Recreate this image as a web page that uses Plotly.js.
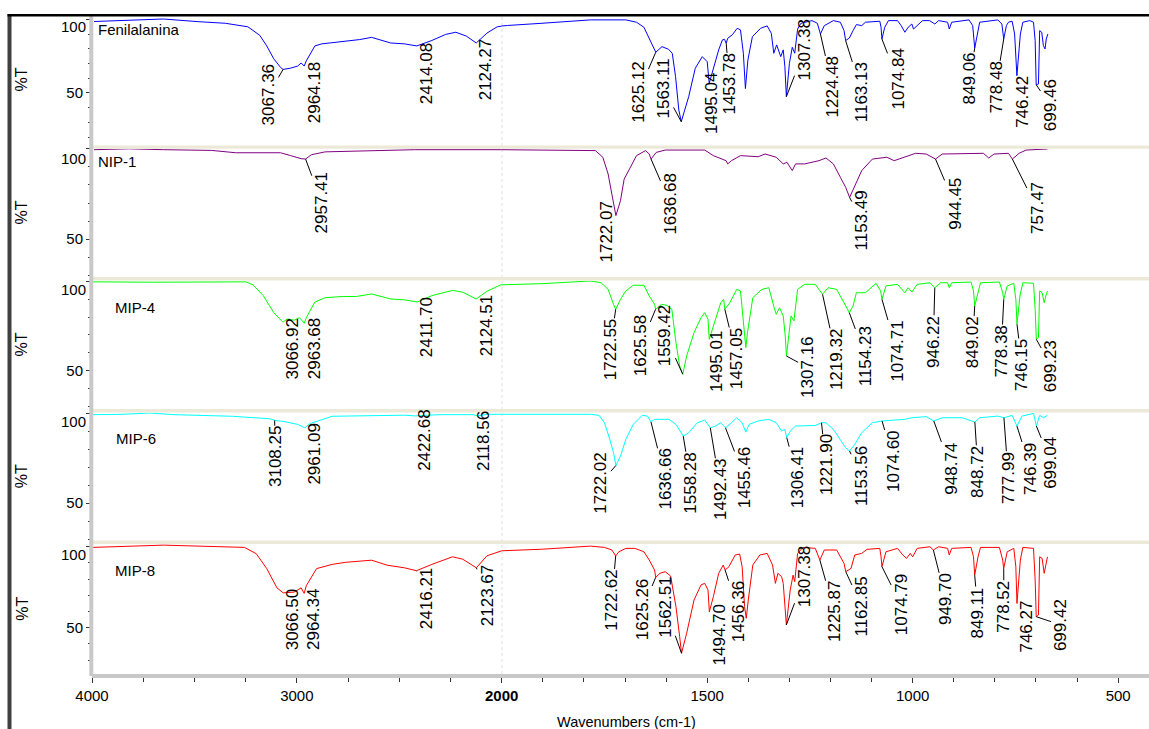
<!DOCTYPE html>
<html>
<head>
<meta charset="utf-8">
<script src="https://cdn.plot.ly/plotly-3.0.1.min.js"></script>
<style>html,body{margin:0;padding:0;background:#fff;}#chart{width:1149px;height:729px;}</style>
</head>
<body>
<div id="chart"></div>
<script>
// ---------------- DATA ----------------
const sampleNames = ['Fenilalanina', 'NIP-1', 'MIP-4', 'MIP-6', 'MIP-8'];

const fenWn = [3990,3819,3651,3483,3349,3239,3181,3147,3113,3080,3067.36,3030,2996,2979,2964.18,2954,2912,2878,2811,2744,2694,2635,2593,2542,2475,2414.08,2341,2274,2224,2173,2124.27,2072,2022,1986,1902,1818,1784,1698,1672,1654,1642,1625.12,1610,1594,1585,1577,1569,1563.11,1545,1529,1512,1500,1495.04,1484,1472,1463,1458,1453.78,1450,1439,1427,1419,1412,1407,1401,1390,1370,1354,1344,1338,1331,1321,1315,1311,1307.38,1300,1293,1287,1280,1272,1245,1232,1224.48,1215,1193,1176,1167,1163.13,1154,1145,1137,1124,1115,1080,1077,1074.84,1068,1059,1037,1028,1019,1011,1002,998,989,976,959,946,937,915,911,905,863,854,849.06,843,837,793,783,778.48,772,767,758,752,749,746.42,741,738,732,715,706,702,699.46,694,691,686,682,678,675,671];
const fenT = [98.6,99.7,100.3,98.5,97.4,95.0,89.2,82.0,73.3,67.5,66.0,66.9,68.3,70.4,68.3,71.8,82.0,83.4,84.3,85.7,86.3,87.8,86.3,84.0,83.4,82.0,85.7,89.8,91.3,88.7,84.0,90.7,95.0,95.9,97.4,99.1,99.7,99.7,98.1,94.7,88.0,77.7,81.5,79.7,77.0,61.1,38.4,30.5,47.5,66.8,74.7,71.3,56.6,67.9,79.3,86.1,86.5,83.8,87.2,89.5,94.0,92.9,77.0,53.0,72.4,88.3,94.0,95.6,90.6,77.0,82.7,74.7,79.3,68.0,47.5,70.0,81.1,77.0,93.5,97.4,99.2,97.4,90.1,95.8,99.2,98.1,92.4,85.6,87.4,92.4,96.5,95.8,98.1,98.8,94.7,86.7,94.7,99.2,99.2,95.8,91.3,94.7,96.9,93.5,95.8,99.2,99.2,96.9,99.2,98.1,93.5,98.1,99.7,95.8,80.5,90.1,98.1,99.7,96.9,86.7,95.8,98.1,98.8,90.1,75.0,61.8,80.0,90.1,98.1,99.2,98.1,85.6,55.6,56.1,92.4,91.3,82.2,79.9,86.7,90.1];
const fenPeaks = [3067.36,2964.18,2414.08,2124.27,1625.12,1563.11,1495.04,1453.78,1307.38,1224.48,1163.13,1074.84,849.06,778.48,746.42,699.46];

const nipWn = [3990,3819,3651,3416,3298,3080,3030,2979,2957.41,2929,2862,2710,2425,2000,1784,1772,1754,1741,1732,1726,1722.07,1711,1702,1689,1672,1650,1641,1636.68,1624,1602,1506,1485,1454,1450,1441,1419,1376,1359,1332,1315,1306,1293,1285,1263,1228,1211,1193,1176,1163,1153.49,1137,1124,1098,1063,1045,1019,993,967,944.45,928,898,863,828,815,802,767,757.47,741,724,672];
const nipT = [99.6,100.1,99.6,99.2,97.9,97.9,96.3,94.6,94.4,96.8,98.4,98.7,99.6,99.6,99.4,99.1,95.4,86.1,75.0,66.5,63.0,71.3,83.3,88.9,96.3,99.1,97.2,94.4,98.1,99.4,99.4,96.3,93.5,91.7,93.5,96.3,95.7,97.2,95.4,91.7,92.6,88.0,91.7,91.7,93.5,95.0,91.7,84.3,78.7,73.1,81.5,88.0,94.4,95.4,93.5,95.4,97.6,97.2,94.4,97.2,97.2,97.6,97.6,95.0,97.2,97.6,94.4,97.6,99.4,100.0];
const nipPeaks = [2957.41,1722.07,1636.68,1153.49,944.45,757.47];

const mip4Wn = [3995,3700,3248,3214,3164,3113,3071,3066.92,3046,3013,2987,2963.68,2954,2912,2862,2778,2710,2635,2542,2475,2411.70,2341,2240,2190,2124.51,2072,2005,1900,1784,1758,1741,1728,1722.55,1711,1698,1680,1654,1641,1628,1625.58,1611,1598,1586,1576,1567,1559.42,1550,1532,1515,1506,1498,1495.01,1480,1467,1460,1457.05,1445,1428,1419,1412,1406,1402,1389,1367,1350,1337,1332,1324,1315,1310,1307.16,1296,1289,1280,1263,1237,1224,1219.32,1206,1185,1167,1154.23,1145,1137,1115,1089,1078,1074.71,1065,1037,1019,1011,1002,989,958,946.22,932,915,911,905,858,852,849.02,841,835,789,781,778.38,770,754,749,746.15,739,732,706,702,699.23,694,691,685,680,676,672];
const mip4T = [99.8,99.6,99.8,98.1,92.1,82.6,77.5,77.3,79.0,78.3,79.7,76.6,79.7,88.5,90.9,91.6,91.6,93.0,90.2,89.7,88.5,92.1,95.0,94.0,90.2,94.5,98.1,98.8,100.3,99.3,95.6,87.2,84.4,90.0,94.7,97.9,97.9,91.9,87.2,84.4,87.2,86.6,84.4,65.7,52.6,48.0,58.2,71.3,79.7,82.5,78.8,67.6,78.8,88.1,90.0,84.4,88.1,95.6,94.7,78.8,62.9,71.3,90.9,95.6,96.5,85.3,81.6,85.3,80.7,69.4,58.2,80.7,77.9,95.6,98.4,98.4,94.7,92.8,96.5,95.6,88.1,82.5,86.3,93.7,93.7,99.0,94.7,90.0,97.5,98.4,93.7,96.5,94.1,98.4,99.3,96.5,99.3,99.3,96.5,99.3,99.7,94.7,86.3,94.7,99.3,99.7,93.7,90.0,97.5,99.0,90.0,76.0,91.9,99.3,99.0,84.4,67.6,68.5,94.7,93.7,88.1,91.9,94.7];
const mip4Peaks = [3066.92,2963.68,2411.70,2124.51,1722.55,1625.58,1559.42,1495.01,1457.05,1307.16,1219.32,1154.23,1074.71,946.22,849.02,778.38,746.15,699.23];

const mip6Wn = [3995,3852,3718,3600,3315,3214,3130,3108.25,3063,2996,2961.09,2937,2828,2475,2422.68,2307,2139,2118.56,2072,2000,1784,1763,1750,1737,1728,1722.02,1711,1698,1680,1658,1645,1636.66,1628,1593,1576,1558.28,1545,1524,1506,1492.43,1480,1467,1455.46,1441,1428,1415,1406,1398,1376,1350,1332,1319,1311,1306.41,1298,1285,1263,1237,1221.90,1211,1193,1176,1163,1153.56,1141,1124,1098,1074.60,1045,1019,1002,967,948.74,928,880,848.72,837,793,777.99,758,746.39,734,706,699.04,691,682,672];
const mip6T = [99.1,99.3,100.0,99.1,98.2,97.6,96.8,95.9,95.3,93.7,91.8,94.1,98.2,98.8,98.4,99.1,99.1,98.4,99.3,99.3,99.3,98.7,94.6,85.4,78.0,70.9,76.1,85.4,93.7,98.7,98.3,95.0,96.5,96.5,93.7,87.2,89.1,94.6,96.1,91.8,92.8,94.6,91.8,94.6,97.4,94.6,89.4,93.7,95.6,96.5,94.6,90.0,90.9,86.3,90.0,92.8,92.8,93.1,94.6,94.6,90.9,85.4,80.7,78.9,82.6,89.1,94.6,95.6,96.1,96.5,97.4,98.0,95.6,97.4,97.4,95.0,97.4,98.3,97.4,98.7,92.8,98.3,99.8,92.8,98.7,97.4,98.7];
const mip6Peaks = [3108.25,2961.09,2422.68,2118.56,1722.02,1636.66,1558.28,1492.43,1455.46,1306.41,1221.90,1153.56,1074.60,948.74,848.72,777.99,746.39,699.04];

const mip8Wn = [3995,3651,3256,3198,3147,3097,3066.50,3013,2979,2964.34,2954,2904,2828,2761,2635,2559,2475,2416.21,2341,2240,2190,2123.67,2072,2000,1900,1784,1750,1732,1722.62,1715,1698,1676,1654,1641,1628,1625.26,1615,1602,1589,1576,1567,1562.51,1550,1532,1515,1506,1498,1494.70,1485,1472,1461,1456.36,1447,1432,1421,1415,1409,1405,1400,1389,1372,1354,1341,1334,1328,1319,1315,1311,1307.38,1298,1291,1287,1280,1267,1237,1225.87,1215,1185,1167,1162.85,1150,1141,1124,1111,1080,1077,1074.79,1065,1037,1024,1015,1006,1000,989,958,949.70,937,915,911,905,858,852,849.11,841,835,789,781,778.52,770,754,749,746.27,738,732,706,702,699.42,694,691,685,680,676,672];
const mip8T = [99.6,101.0,99.6,95.7,86.5,74.6,71.5,72.0,74.6,71.2,75.9,86.5,89.1,90.4,91.7,88.6,87.0,85.2,89.1,93.8,92.3,87.0,94.4,97.5,98.5,100.4,99.6,98.0,94.3,96.9,99.0,99.0,96.9,91.8,85.6,81.1,83.6,84.6,81.9,63.0,44.5,34.2,46.5,67.1,76.4,77.4,73.3,59.9,69.2,83.6,88.7,85.6,87.7,94.9,95.5,87.7,63.0,55.8,67.1,88.7,94.9,95.9,88.7,77.4,83.6,81.5,77.4,63.0,51.7,73.3,82.5,78.4,95.9,99.6,99.0,91.8,98.0,98.0,89.7,84.6,86.6,94.9,95.9,98.4,99.0,93.8,87.7,96.9,99.0,94.9,92.8,95.9,93.8,99.0,100.0,98.0,100.0,99.0,94.9,99.0,99.6,93.8,82.5,93.8,99.6,99.6,91.8,86.6,96.9,99.0,87.7,65.0,91.8,99.6,99.0,79.4,56.8,57.8,93.8,92.8,83.6,88.7,93.8];
const mip8Peaks = [3066.50,2964.34,2416.21,2123.67,1722.62,1625.26,1562.51,1494.70,1456.36,1307.38,1225.87,1162.85,1074.79,949.70,849.11,778.52,746.27,699.42];

const xLeftTicks = [4000, 3000];
const xRightTicks = [2000, 1500, 1000, 500];
const yMajorTicks = [50, 100];

// ---------------- LAYOUT / STYLE ----------------
const FONT = 'Liberation Sans, Arial, sans-serif';
const W = 1149, H = 729, ML = 92, MR = 0, MT = 14, MB = 55;
const PW = W - ML - MR, PH = H - MT - MB;
const fx = p => (p - ML) / PW;
const fy = p => (H - MB - p) / PH;
const xBreak = fx(501.7);

const colors = ['#0000ff', '#800080', '#00ff00', '#00ffff', '#ff0000'];
const panelPx = [
  {top: 14,    bot: 145.5, yr: [14.3, 103.7], name: [96, 29.8],  shift100: -7.5},
  {top: 148.8, bot: 277,   yr: [28.9, 100.1], name: [96, 161.5], shift100: -10},
  {top: 280.6, bot: 409,   yr: [28.5, 100.5], name: [113.4, 307.5], shift100: -8},
  {top: 412.5, bot: 540.5, yr: [29.2, 100.3], name: [114.4, 438.5], shift100: -8.4},
  {top: 544,   bot: 674,   yr: [21.4, 101.7], name: [113.4, 570], shift100: -7.8}
];
// label offsets (pixels) from peak to label centre
const labelOffsets = [
  [[-14.6,25.5],[10,27],[9.8,27.7],[9.6,26.5],[-17.3,40],[-17.7,-32.7],[2.5,20],[3.4,40.7],[18.2,-46.7],[12,53],[16.2,51.8],[15.6,40],[-5,30.6],[-7.9,48.3],[5.7,26.6],[14.3,20.9]],
  [[16.2,43.6],[-9.7,16.7],[19.5,45],[12.2,23.3],[19.1,45],[24.5,49]],
  [[9.4,27],[9.9,25.8],[9.3,25.6],[9.7,26.4],[-5.9,40],[-15.3,36.7],[-17.4,-38.3],[7.9,22.7],[11.9,49.2],[21.7,11.7],[14.2,65],[16,43.3],[14.8,51.7],[-1.5,54],[-2.1,36.7],[-2.6,51.7],[4.9,40.7],[14.9,26.7]],
  [[0.6,36.3],[9.3,26.7],[9.1,24.7],[6,24.7],[-15,17.3],[14.2,57.3],[7.7,46.7],[10.3,61.5],[19,50],[10.7,40],[4.6,42.5],[11.5,25],[11.9,40],[17.4,47.6],[3.2,49.8],[4.4,60],[13.5,42.5],[14.8,36.7]],
  [[9.3,26.9],[10,26.5],[10.2,27.8],[10.6,27.4],[-4,44],[-13.6,32.7],[-16.2,-45.8],[10.1,23.3],[13.4,41.7],[18.2,-48.3],[14.4,51.7],[16.1,35],[19.2,38.4],[12.4,49.3],[3.2,37.5],[0.3,38.3],[9.9,23.3],[24.9,8.3]]
];

const series = [
  {wn: fenWn, t: fenT, peaks: fenPeaks},
  {wn: nipWn, t: nipT, peaks: nipPeaks},
  {wn: mip4Wn, t: mip4T, peaks: mip4Peaks},
  {wn: mip6Wn, t: mip6T, peaks: mip6Peaks},
  {wn: mip8Wn, t: mip8T, peaks: mip8Peaks}
];

function nearestIdx(arr, v) {
  let best = 0, bd = Infinity;
  arr.forEach((a, i) => { const d = Math.abs(a - v); if (d < bd) { bd = d; best = i; } });
  return best;
}

const traces = [];
const annotations = [];
const shapes = [];
const layout = {
  width: W, height: H,
  margin: {l: ML, r: MR, t: MT, b: MB},
  paper_bgcolor: '#ffffff', plot_bgcolor: '#ffffff',
  showlegend: false,
  font: {family: FONT, size: 15, color: '#000'},
  xaxis: {
    domain: [0, xBreak], range: [4000, 2000], anchor: 'y5',
    tickmode: 'array', tickvals: xLeftTicks, ticktext: xLeftTicks.map(String),
    ticks: 'outside', ticklen: 5, tickcolor: '#333', tickwidth: 1,
    showline: true, linecolor: '#c8c8c8', linewidth: 4,
    showgrid: false, zeroline: false,
    tickfont: {family: FONT, size: 15, color: '#000'},
    minor: {tickmode: 'array', tickvals: [3750, 3500, 3250, 2750, 2500, 2250], ticks: 'outside', ticklen: 4, tickcolor: '#333', showgrid: false}
  },
  xaxis2: {
    domain: [xBreak, 1], range: [2000, 425], anchor: 'y5',
    tickmode: 'array', tickvals: xRightTicks,
    ticktext: xRightTicks.map(v => v === 2000 ? '<b>2000</b>' : String(v)),
    ticks: 'outside', ticklen: 5, tickcolor: '#333', tickwidth: 1,
    showline: true, linecolor: '#c8c8c8', linewidth: 4,
    showgrid: false, zeroline: false,
    tickfont: {family: FONT, size: 15, color: '#000'},
    minor: {tickmode: 'array', tickvals: [1900,1800,1700,1600,1400,1300,1200,1100,900,800,700,600], ticks: 'outside', ticklen: 4, tickcolor: '#333', showgrid: false}
  },
  shapes: shapes,
  annotations: annotations
};

series.forEach((s, i) => {
  const n = i + 1;
  const yName = n === 1 ? 'y' : 'y' + n;
  const yKey = n === 1 ? 'yaxis' : 'yaxis' + n;
  const P = panelPx[i];
  layout[yKey] = {
    domain: [fy(P.bot), fy(P.top)], range: P.yr, anchor: 'x',
    tickmode: 'array', tickvals: yMajorTicks, ticktext: yMajorTicks.map(v => v === 100 ? '' : String(v)),
    ticks: 'outside', ticklen: 5, tickcolor: '#333', tickwidth: 1,
    showline: false, showgrid: false, zeroline: false,
    tickfont: {family: FONT, size: 15, color: '#000'},
    minor: {tickmode: 'array', tickvals: [10,20,30,40,60,70,80,90], ticks: 'outside', ticklen: 3, tickcolor: '#333', showgrid: false}
  };
  ['x', 'x2'].forEach(xa => {
    traces.push({
      x: s.wn, y: s.t, xaxis: xa, yaxis: yName, type: 'scatter', mode: 'lines',
      line: {color: colors[i], width: 1}, hoverinfo: 'skip'
    });
  });
  // peak labels
  s.peaks.forEach((p, k) => {
    const idx = nearestIdx(s.wn, p);
    const off = labelOffsets[i][k];
    annotations.push({
      x: p, y: s.t[idx], xref: p >= 2000 ? 'x' : 'x2', yref: yName,
      text: p.toFixed(2), textangle: -90,
      showarrow: true, arrowhead: 0, arrowwidth: 1, arrowcolor: '#000', standoff: 0,
      ax: off[0], ay: off[1],
      font: {family: FONT, size: 17, color: '#000'}, borderpad: 0
    });
  });
  // sample name
  annotations.push({
    xref: 'paper', yref: 'paper', x: fx(P.name[0]), y: fy(P.name[1]),
    xanchor: 'left', yanchor: 'middle', showarrow: false,
    text: sampleNames[i], font: {family: FONT, size: 15, color: '#000'}
  });
  // "%T"
  annotations.push({
    xref: 'paper', yref: yName + ' domain', x: fx(21.7), y: 0.5,
    xanchor: 'center', yanchor: 'middle', textangle: -90, showarrow: false,
    text: '%T', font: {family: FONT, size: 16, color: '#000'}
  });
  // "100" tick label (drawn slightly inside the panel like the original)
  annotations.push({
    xref: 'paper', yref: yName, x: fx(88), y: 100, yshift: P.shift100,
    xanchor: 'right', yanchor: 'middle', showarrow: false,
    text: '100', font: {family: FONT, size: 15, color: '#000'}
  });
  // separator band above panels 2..5
  if (i > 0) {
    shapes.push({
      type: 'rect', xref: 'paper', yref: 'paper', x0: 0, x1: 1,
      y0: fy(panelPx[i - 1].bot), y1: fy(P.top),
      fillcolor: '#ece9d8', line: {width: 0}, layer: 'above'
    });
  }
});

// dotted line at scale break
shapes.push({type: 'line', xref: 'x2', yref: 'paper', x0: 2000, x1: 2000, y0: 0, y1: 1,
  line: {color: '#b4b4b4', width: 1, dash: 'dot'}, layer: 'below'});
// y axis line
shapes.push({type: 'line', xref: 'paper', yref: 'paper', x0: fx(91.3), x1: fx(91.3), y0: fy(676), y1: fy(14),
  line: {color: '#c8c8c8', width: 4}, layer: 'above'});
// outer frame lines
shapes.push({type: 'line', xref: 'paper', yref: 'paper', x0: fx(9.5), x1: fx(9.5), y0: fy(14), y1: fy(729),
  line: {color: '#404040', width: 4}, layer: 'above'});
shapes.push({type: 'line', xref: 'paper', yref: 'paper', x0: fx(7.5), x1: 1, y0: fy(15.3), y1: fy(15.3),
  line: {color: '#000000', width: 2.5}, layer: 'above'});

// x axis title
annotations.push({
  xref: 'paper', yref: 'paper', x: fx(626.7), y: fy(721.7),
  xanchor: 'center', yanchor: 'middle', showarrow: false,
  text: 'Wavenumbers (cm-1)', font: {family: FONT, size: 14.5, color: '#000'}
});

Plotly.newPlot('chart', traces, layout, {displayModeBar: false, staticPlot: true});
</script>
</body>
</html>
